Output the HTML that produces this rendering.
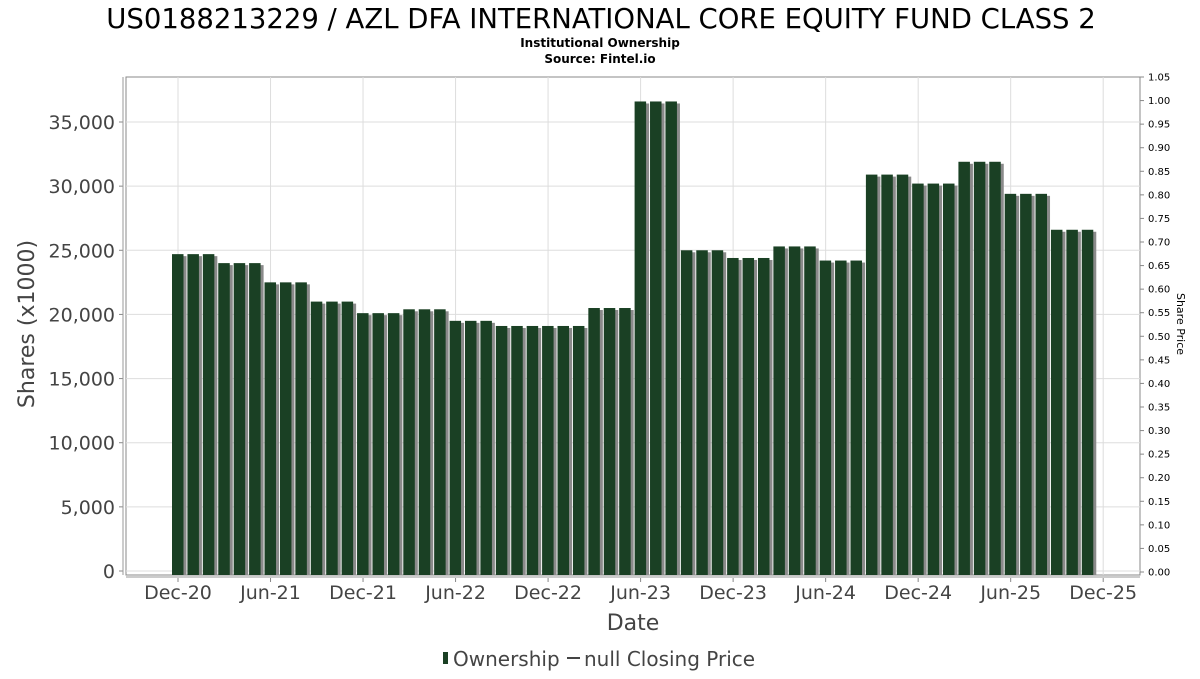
<!DOCTYPE html>
<html><head><meta charset="utf-8"><style>
body{margin:0;background:#fff;font-family:"DejaVu Sans","Liberation Sans",sans-serif;}
svg text{font-family:"DejaVu Sans","Liberation Sans",sans-serif;}
</style></head><body>
<svg id="chart" width="1200" height="675" xmlns="http://www.w3.org/2000/svg">
<text x="601" y="28" text-anchor="middle" font-size="27.5" fill="#000">US0188213229 / AZL DFA INTERNATIONAL CORE EQUITY FUND CLASS 2</text>
<text x="600" y="47" text-anchor="middle" font-size="12" font-weight="bold" fill="#000">Institutional Ownership</text>
<text x="600" y="63" text-anchor="middle" font-size="12" font-weight="bold" fill="#000">Source: Fintel.io</text>
<rect x="126" y="77" width="1014" height="498" fill="#fff" stroke="#888"/>
<g id="grid"></g><g id="bars"></g><g id="axes"></g>
<text x="633" y="630" text-anchor="middle" font-size="22" fill="#444">Date</text>
<text transform="translate(34,324) rotate(-90)" text-anchor="middle" font-size="22" fill="#444">Shares (x1000)</text>
<text transform="translate(1177,324) rotate(90)" text-anchor="middle" font-size="11" fill="#000">Share Price</text>
<g>
<rect x="443" y="652" width="5" height="12" fill="#1a4024"/>
<text x="453" y="666" font-size="20" fill="#444">Ownership</text>
<line x1="567" y1="658" x2="580" y2="658" stroke="#444" stroke-width="2"/>
<text x="584" y="666" font-size="20" fill="#444">null Closing Price</text>
</g>
</svg>
<script>
const values = [24700,24700,24700,24000,24000,24000,22500,22500,22500,21000,21000,21000,20100,20100,20100,20400,20400,20400,19500,19500,19500,19100,19100,19100,19100,19100,19100,20500,20500,20500,36600,36600,36600,25000,25000,25000,24400,24400,24400,25300,25300,25300,24200,24200,24200,30900,30900,30900,30200,30200,30200,31900,31900,31900,29400,29400,29400,26600,26600,26600];
const yTicks = [0,5000,10000,15000,20000,25000,30000,35000];
const xTickLabels = ["Dec-20","Jun-21","Dec-21","Jun-22","Dec-22","Jun-23","Dec-23","Jun-24","Dec-24","Jun-25","Dec-25"];
const rightTicks = [0,0.05,0.1,0.15,0.2,0.25,0.3,0.35,0.4,0.45,0.5,0.55,0.6,0.65,0.7,0.75,0.8,0.85,0.9,0.95,1.0,1.05];
const NS="http://www.w3.org/2000/svg";
const x = m => 178 + 15.42*m;
const y = v => 571 - v*449/35000;
const yr = p => 572 - p*495/1.05;
function mk(tag, attrs, parent){const e=document.createElementNS(NS,tag);for(const k in attrs)e.setAttribute(k,attrs[k]);document.getElementById(parent).appendChild(e);return e;}
yTicks.forEach(t=>{
  const g=mk('line',{x1:126,x2:1140,y1:y(t),y2:y(t),stroke:'#ddd'},'grid');
  
  
  const tk=mk('line',{x1:119,x2:123,y1:y(t),y2:y(t),stroke:'#888'},'axes');
  
  
  const l=mk('text',{x:115,y:y(t)+7,'text-anchor':'end','font-size':19,fill:'#444'},'axes');
  l.textContent=t.toLocaleString('en-US');
  
  
});
xTickLabels.forEach((s,i)=>{
  const xx=x(i*6);
  const g=mk('line',{x1:xx,x2:xx,y1:77,y2:575,stroke:'#ddd'},'grid');
  
  
  const tk=mk('line',{x1:xx,x2:xx,y1:578,y2:582,stroke:'#888'},'axes');
  
  
  const l=mk('text',{x:xx,y:599,'text-anchor':'middle','font-size':19,fill:'#444'},'axes');
  l.textContent=s;
  
  
});
rightTicks.forEach(p=>{
  const tk=mk('line',{x1:1140,x2:1144,y1:yr(p),y2:yr(p),stroke:'#888'},'axes');
  
  
  const l=mk('text',{x:1148,y:yr(p)+3.5,'font-size':10,fill:'#000'},'axes');
  l.textContent=p.toFixed(2);
  
  
});
const ya=mk('line',{x1:123,x2:123,y1:77,y2:575,stroke:'#999'},'axes');


const xa=mk('line',{x1:126,x2:1140,y1:577,y2:577,stroke:'#999'},'axes');


values.forEach((v,i)=>{
  const cx=x(i);
  const s=mk('rect',{x:cx-3,y:y(v)+2,width:11.5,height:575-y(v)-2,fill:'#8a8a8a'},'bars');
  
  
  const b=mk('rect',{x:cx-6,y:y(v),width:11.5,height:575-y(v),fill:'#1a4024'},'bars');
  
  
});
</script>
</body></html>
